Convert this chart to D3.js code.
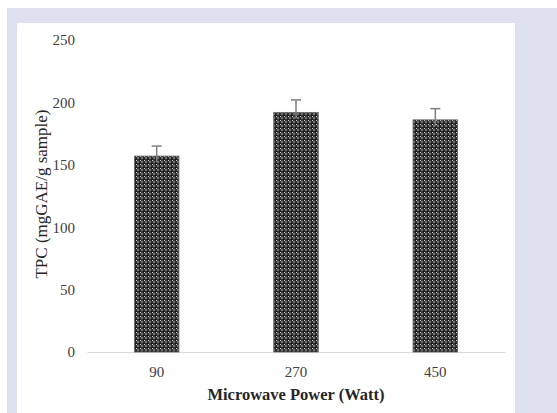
<!DOCTYPE html>
<html>
<head>
<meta charset="utf-8">
<script src="https://cdn.jsdelivr.net/npm/d3@7"></script>
<style>
  body { margin: 0; background: #fff; }
</style>
</head>
<body>
<div id="chart"></div>
<script>
// data
var powers = ["90", "270", "450"]
var tpc = [157, 192, 186]
var tpcErr = [8, 10, 9]
var yTicks = [0, 50, 100, 150, 200, 250]

var W = 557, H = 413

var svg = d3.select("#chart")
  .append("svg")
  .attr("width", W)
  .attr("height", H)

// frame
svg.append("rect")
  .attr("x", 7).attr("y", 8)
  .attr("width", W - 7).attr("height", H - 8)
  .attr("fill", "#dde0ee")
svg.append("rect")
  .attr("x", 17).attr("y", 23)
  .attr("width", 498).attr("height", H - 23)
  .attr("fill", "#fff")

// fill pattern for bars
var defs = svg.append("defs")
var pat = defs.append("pattern")
  .attr("id", "dots")
  .attr("patternUnits", "userSpaceOnUse")
  .attr("width", 4).attr("height", 4)
pat.append("rect").attr("width", 4).attr("height", 4).attr("fill", "#1a1a1a")
pat.append("circle").attr("cx", 2).attr("cy", 2).attr("r", 1.4).attr("fill", "#6e6e6e")
pat.append("rect").attr("x", 0).attr("y", 0).attr("width", 1).attr("height", 1).attr("fill", "#cfcfcf")

var x = d3.scaleBand()
  .domain(powers)
  .range([87, 505])
  .paddingInner(0.68)
  .paddingOuter(0.34)

var y = d3.scaleLinear()
  .domain([0, 250])
  .range([352, 40])

// y axis (labels only)
var yAxis = svg.append("g")
  .attr("transform", "translate(80,0)")
  .call(d3.axisLeft(y).tickValues(yTicks).tickSize(0).tickPadding(5))
yAxis.select(".domain").remove()
yAxis.selectAll("text")
  .attr("font-family", "Liberation Serif, serif")
  .attr("font-size", 15)
  .attr("fill", "#404040")

// x axis
var xAxis = svg.append("g")
  .attr("transform", "translate(0," + y(0) + ")")
  .call(d3.axisBottom(x).tickSize(0).tickPadding(14))
xAxis.select(".domain")
  .attr("stroke", "#d9d9d9")
  .attr("stroke-width", 1.2)
xAxis.selectAll("text")
  .attr("font-family", "Liberation Serif, serif")
  .attr("font-size", 15)
  .attr("fill", "#404040")

// bars
svg.selectAll(".bar")
  .data(powers)
  .enter()
  .append("rect")
    .attr("class", "bar")
    .attr("x", function(d) { return x(d) })
    .attr("y", function(d, i) { return y(tpc[i]) })
    .attr("width", x.bandwidth())
    .attr("height", function(d, i) { return y(0) - y(tpc[i]) })
    .attr("fill", "url(#dots)")
    .attr("stroke", "#666")
    .attr("stroke-width", 0.8)

// error bars (upper only)
var eb = svg.selectAll(".err")
  .data(powers)
  .enter()
  .append("g")
  .attr("class", "err")
  .attr("stroke", "#7f7f7f")
  .attr("stroke-width", 1.5)
eb.append("line")
  .attr("x1", function(d) { return x(d) + x.bandwidth() / 2 })
  .attr("x2", function(d) { return x(d) + x.bandwidth() / 2 })
  .attr("y1", function(d, i) { return y(tpc[i]) + 6 })
  .attr("y2", function(d, i) { return y(tpc[i] + tpcErr[i]) })
eb.append("line")
  .attr("x1", function(d) { return x(d) + x.bandwidth() / 2 - 5 })
  .attr("x2", function(d) { return x(d) + x.bandwidth() / 2 + 5 })
  .attr("y1", function(d, i) { return y(tpc[i] + tpcErr[i]) })
  .attr("y2", function(d, i) { return y(tpc[i] + tpcErr[i]) })

// titles
svg.append("text")
  .attr("x", 296)
  .attr("y", 400)
  .attr("text-anchor", "middle")
  .attr("font-family", "Liberation Serif, serif")
  .attr("font-weight", "bold")
  .attr("font-size", 16.5)
  .attr("fill", "#262626")
  .text("Microwave Power (Watt)")

svg.append("text")
  .attr("transform", "translate(47,194) rotate(-90)")
  .attr("text-anchor", "middle")
  .attr("font-family", "Liberation Serif, serif")
  .attr("font-size", 17)
  .attr("fill", "#262626")
  .text("TPC (mgGAE/g sample)")
</script>
</body>
</html>
